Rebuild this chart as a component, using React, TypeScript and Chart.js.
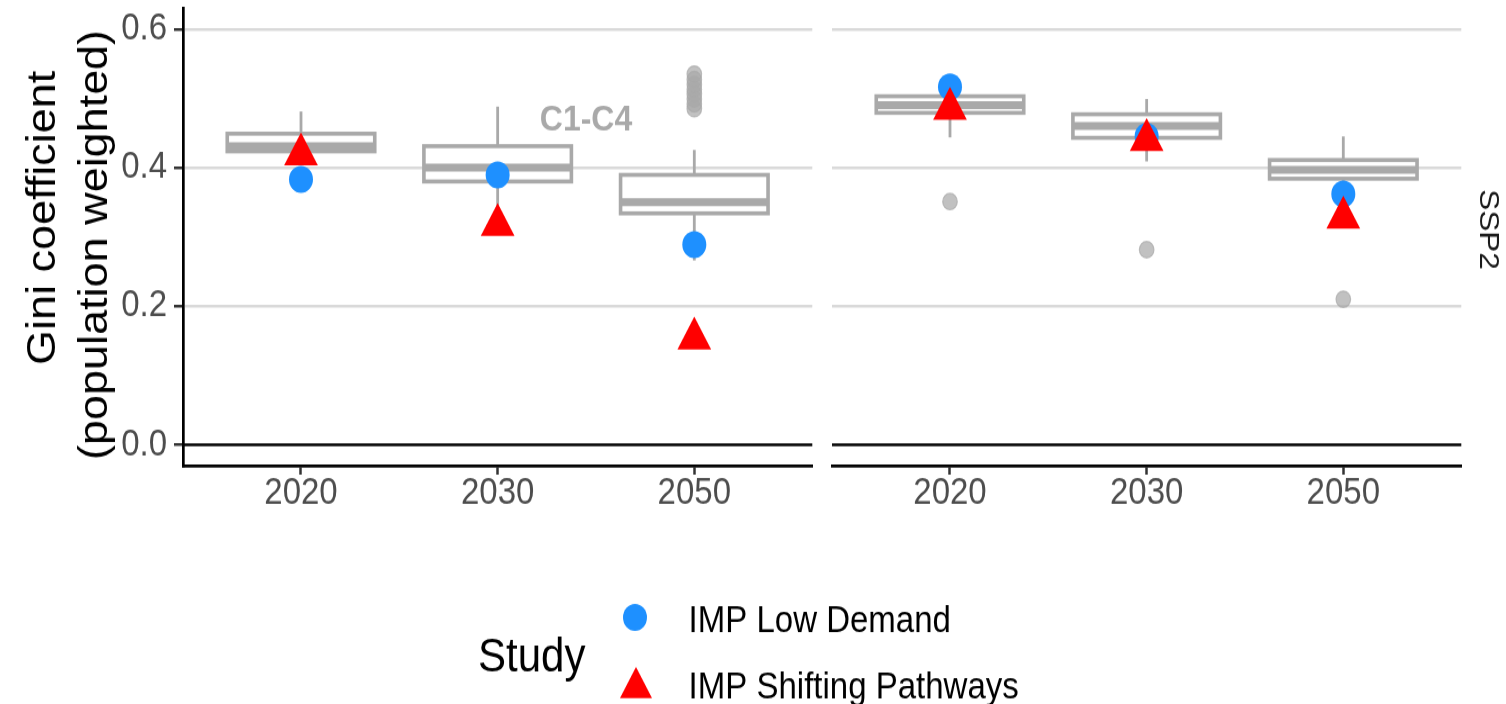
import React, { useEffect, useRef } from 'react';
import { Chart, registerables } from 'chart.js';

Chart.register(...registerables);

// ---------- data ----------
const years = ['2020', '2030', '2050'];
const yTickValues = [0, 0.2, 0.4, 0.6];
const yMin = -0.03;
const yMax = 0.63;

// Panel "C1-C4"
const c14WhiskerLow = [0.41, 0.345, 0.266];
const c14Q1 = [0.4235, 0.38, 0.334];
const c14Median = [0.431, 0.4, 0.35];
const c14Q3 = [0.449, 0.431, 0.3895];
const c14WhiskerHigh = [0.481, 0.488, 0.4255];
const c14OutlierYear = ['2050', '2050', '2050', '2050', '2050', '2050', '2050', '2050'];
const c14OutlierValue = [0.485, 0.492, 0.499, 0.506, 0.513, 0.52, 0.527, 0.535];
const c14LowDemand = [0.383, 0.3895, 0.289];
const c14Shifting = [0.419, 0.3174, 0.1534];

// Panel "SSP2"
const ssp2WhiskerLow = [0.4436, 0.409, 0.365];
const ssp2Q1 = [0.479, 0.443, 0.384];
const ssp2Median = [0.49, 0.46, 0.397];
const ssp2Q3 = [0.503, 0.477, 0.411];
const ssp2WhiskerHigh = [0.512, 0.499, 0.445];
const ssp2OutlierYear = ['2020', '2030', '2050'];
const ssp2OutlierValue = [0.351, 0.2816, 0.21];
const ssp2LowDemand = [0.5165, 0.445, 0.362];
const ssp2Shifting = [0.485, 0.44, 0.3277];

// ---------- text ----------
const yTitleLines = ['Gini coefficient', '(population weighted)'];
const panelLabel = 'C1-C4';
const facetLabel = 'SSP2';
const legendTitle = 'Study';
const seriesLowName = 'IMP Low Demand';
const seriesShiftName = 'IMP Shifting Pathways';

// ---------- style ----------
const W = 1506;
const H = 626;
const CSS_H = 704;
const FONT = '"Liberation Sans", Arial, Helvetica, sans-serif';
const BOX_COLOR = '#A9A9A9';
const BLUE = '#1E90FF';
const RED = '#FF0000';
const BOX_WIDTH = 0.75;

type Panel = {
  left: boolean;
  lo: number[]; q1: number[]; med: number[]; q3: number[]; hi: number[];
  outYear: string[]; outVal: number[];
  low: number[]; shift: number[];
};

const panels: Panel[] = [
  { left: true, lo: c14WhiskerLow, q1: c14Q1, med: c14Median, q3: c14Q3, hi: c14WhiskerHigh,
    outYear: c14OutlierYear, outVal: c14OutlierValue, low: c14LowDemand, shift: c14Shifting },
  { left: false, lo: ssp2WhiskerLow, q1: ssp2Q1, med: ssp2Median, q3: ssp2Q3, hi: ssp2WhiskerHigh,
    outYear: ssp2OutlierYear, outVal: ssp2OutlierValue, low: ssp2LowDemand, shift: ssp2Shifting },
];

function line(ctx: any, x1: number, y1: number, x2: number, y2: number) {
  ctx.beginPath();
  ctx.moveTo(x1, y1);
  ctx.lineTo(x2, y2);
  ctx.stroke();
}

function boxPlugin(p: Panel) {
  return {
    id: 'boxes',
    beforeDatasetsDraw(chart: any) {
      const { ctx, chartArea, scales } = chart;
      const x = scales.x;
      const y = scales.y;
      ctx.save();
      // reference line at zero
      ctx.strokeStyle = '#000';
      ctx.lineWidth = 2.7;
      const y0 = y.getPixelForValue(0);
      line(ctx, chartArea.left, y0, chartArea.right, y0);
      for (let i = 0; i < years.length; i++) {
        const xc = x.getPixelForValue(i + 1);
        const half = x.getPixelForValue(i + 1 + BOX_WIDTH / 2) - xc;
        const pLo = y.getPixelForValue(p.lo[i]);
        const pQ1 = y.getPixelForValue(p.q1[i]);
        const pMed = y.getPixelForValue(p.med[i]);
        const pQ3 = y.getPixelForValue(p.q3[i]);
        const pHi = y.getPixelForValue(p.hi[i]);
        ctx.strokeStyle = BOX_COLOR;
        ctx.lineWidth = 2.8;
        line(ctx, xc, pHi, xc, pQ3);
        line(ctx, xc, pQ1, xc, pLo);
        ctx.fillStyle = '#FFFFFF';
        ctx.fillRect(xc - half, pQ3, 2 * half, pQ1 - pQ3);
        ctx.lineWidth = 3.6;
        ctx.strokeRect(xc - half, pQ3, 2 * half, pQ1 - pQ3);
        ctx.lineWidth = 7;
        line(ctx, xc - half, pMed, xc + half, pMed);
      }
      ctx.restore();
    },
  };
}

function textPlugin(p: Panel) {
  return {
    id: 'texts',
    afterDraw(chart: any) {
      const ctx = chart.ctx;
      ctx.save();
      if (p.left) {
        // y axis title
        ctx.fillStyle = '#000';
        ctx.font = `40px ${FONT}`;
        ctx.textAlign = 'center';
        ctx.textBaseline = 'middle';
        const centers = [[44, 193.8], [96, 217.8]];
        yTitleLines.forEach((t, k) => {
          ctx.save();
          ctx.translate(centers[k][0], centers[k][1]);
          ctx.rotate(-Math.PI / 2);
          ctx.fillText(t, 0, 0);
          ctx.restore();
        });
        // panel annotation
        ctx.fillStyle = BOX_COLOR;
        ctx.font = `bold 32px ${FONT}`;
        ctx.fillText(panelLabel, 586, 106.7);
        // legend
        ctx.textAlign = 'left';
        ctx.textBaseline = 'alphabetic';
        ctx.fillStyle = '#000';
        ctx.font = `42px ${FONT}`;
        ctx.fillText(legendTitle, 478, 597);
        ctx.font = `33px ${FONT}`;
        ctx.fillText(seriesLowName, 688.6, 562);
        ctx.fillText(seriesShiftName, 688.6, 620.5);
        ctx.fillStyle = BLUE;
        ctx.beginPath();
        ctx.arc(635, 549, 12, 0, Math.PI * 2);
        ctx.fill();
        ctx.fillStyle = RED;
        const r = 18.5, cx = 636, cy = 611.6;
        ctx.beginPath();
        for (let k = 0; k < 3; k++) {
          const a = (k * 2 * Math.PI) / 3;
          const px = cx + Math.sin(a) * r;
          const py = cy - Math.cos(a) * r;
          if (k === 0) ctx.moveTo(px, py); else ctx.lineTo(px, py);
        }
        ctx.closePath();
        ctx.fill();
      } else {
        ctx.fillStyle = '#1A1A1A';
        ctx.font = `28px ${FONT}`;
        ctx.textAlign = 'center';
        ctx.textBaseline = 'middle';
        ctx.translate(1488, 204);
        ctx.rotate(Math.PI / 2);
        ctx.fillText(facetLabel, 0, 0);
      }
      ctx.restore();
    },
  };
}

function makeConfig(p: Panel): any {
  const left = p.left;
  return {
    type: 'scatter',
    data: {
      datasets: [
        {
          label: seriesShiftName,
          data: years.map((_, i) => ({ x: i + 1, y: p.shift[i] })),
          pointStyle: 'triangle',
          pointRadius: 19.5,
          backgroundColor: RED,
          borderWidth: 0,
        },
        {
          label: seriesLowName,
          data: years.map((_, i) => ({ x: i + 1, y: p.low[i] })),
          pointStyle: 'circle',
          pointRadius: 12,
          backgroundColor: BLUE,
          borderWidth: 0,
        },
        {
          label: 'outliers',
          data: p.outYear.map((yr, k) => ({ x: years.indexOf(yr) + 1, y: p.outVal[k] })),
          pointStyle: 'circle',
          pointRadius: 7.3,
          backgroundColor: 'rgba(169,169,169,0.72)',
          borderColor: 'rgba(169,169,169,0.72)',
          borderWidth: 1.2,
        },
      ],
    },
    options: {
      responsive: false,
      animation: false,
      devicePixelRatio: 1,
      events: [],
      layout: {
        autoPadding: false,
        padding: { left: left ? 0 : 832, right: left ? W - 812.3 : 44.7, top: 7.3, bottom: 0 },
      },
      plugins: { legend: { display: false }, tooltip: { enabled: false } },
      scales: {
        x: {
          type: 'linear',
          min: 0.4,
          max: 3.6,
          afterBuildTicks: (s: any) => {
            s.ticks = years.map((_, i) => ({ value: i + 1 }));
          },
          afterFit: (s: any) => {
            s.height = H - 414;
            s.paddingLeft = 0;
            s.paddingRight = 0;
          },
          ticks: {
            callback: (v: any) => years[Math.round(v) - 1],
            font: { family: FONT, size: 33, lineHeight: 1 },
            color: '#4D4D4D',
            padding: 0,
            maxRotation: 0,
            autoSkip: false,
          },
          grid: {
            drawOnChartArea: false,
            drawTicks: true,
            tickLength: 8,
            tickColor: '#333333',
            tickWidth: 2.5,
          },
          border: { display: true, color: '#000000', width: 2.7 },
        },
        y: {
          type: 'linear',
          min: yMin,
          max: yMax,
          afterBuildTicks: (s: any) => {
            s.ticks = yTickValues.map((v) => ({ value: v }));
          },
          afterFit: (s: any) => {
            s.width = left ? 183 : 0;
            s.paddingTop = 0;
            s.paddingBottom = 0;
          },
          ticks: {
            display: left,
            callback: (v: any) => Number(v).toFixed(1),
            font: { family: FONT, size: 33 },
            color: '#4D4D4D',
            padding: 7,
          },
          grid: {
            color: (c: any) => (c.tick && c.tick.value === 0 ? 'rgba(0,0,0,0)' : '#D9D9D9'),
            lineWidth: 2.5,
            drawTicks: left,
            tickLength: 9,
            tickColor: '#333333',
            tickWidth: 2.5,
          },
          border: { display: left, color: '#000000', width: 2.7 },
        },
      },
    },
    plugins: [boxPlugin(p), textPlugin(p)],
  };
}

export default function App() {
  const leftRef = useRef<HTMLCanvasElement | null>(null);
  const rightRef = useRef<HTMLCanvasElement | null>(null);

  useEffect(() => {
    const c1 = new Chart(leftRef.current as HTMLCanvasElement, makeConfig(panels[0]));
    const c2 = new Chart(rightRef.current as HTMLCanvasElement, makeConfig(panels[1]));
    return () => {
      c1.destroy();
      c2.destroy();
    };
  }, []);

  const style: React.CSSProperties = {
    position: 'absolute',
    left: 0,
    top: 0,
    width: `${W}px`,
    height: `${CSS_H}px`,
  };

  return (
    <div style={{ position: 'fixed', left: 0, top: 0, width: W, height: CSS_H, background: '#fff' }}>
      <canvas ref={leftRef} width={W} height={H} style={style} />
      <canvas ref={rightRef} width={W} height={H} style={style} />
    </div>
  );
}
